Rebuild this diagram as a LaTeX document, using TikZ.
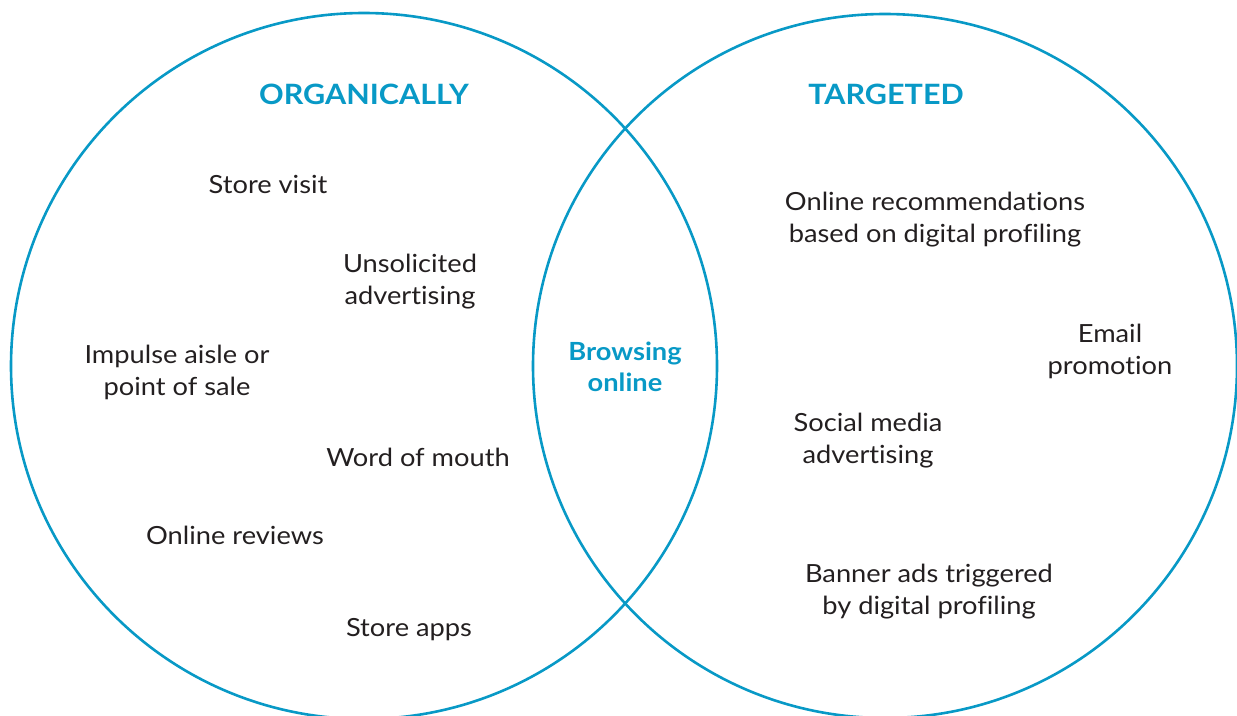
\documentclass[tikz,border=0pt]{standalone}
\usepackage{fontspec}
\setmainfont{Lato}[FakeStretch=1.09,Ligatures=NoCommon]
\definecolor{vblue}{HTML}{0899C6}
\definecolor{vtext}{HTML}{231F20}
\begin{document}
\begin{tikzpicture}[x=1pt,y=-1pt,
  ring/.style={draw=vblue,line width=2.6pt},
  head/.style={font=\fontsize{28}{32}\selectfont\bfseries,text=vblue,inner sep=0pt},
  mid/.style={font=\fontsize{25}{31}\selectfont\bfseries,text=vblue,align=center,inner sep=0pt},
  item/.style={font=\fontsize{25}{32}\selectfont,text=vtext,align=center,inner sep=0pt}]
\useasboundingbox (0,0) rectangle (1237,715);
\clip (0,0) rectangle (1237,715);
\draw[ring] (364,366) circle (353);
\draw[ring] (885,366) circle (352);
\node[head] (org) at (364,94) {ORGANICALLY};
\node[head] (tar) at (886,94) {TARGETED};
\node[mid] (brw) at (625,367) {Browsing\\online};
\node[item] (sv) at (268,184) {Store visit};
\node[item] (ua) at (410,282) {Unsolicited\\advertising};
\node[item] (ia) at (177,372) {Impulse aisle or\\point of sale};
\node[item] (wm) at (418,457) {Word of mouth};
\node[item] (or) at (235,535) {Online reviews};
\node[item] (sa) at (409,630) {Store apps};
\node[item] (rec) at (935,220) {Online recommendations\\based on digital profiling};
\node[item] (em) at (1110,351) {Email\\promotion};
\node[item] (sm) at (868,441) {Social media\\advertising};
\node[item] (ban) at (929,592) {Banner ads triggered\\by digital profiling};
\end{tikzpicture}
\end{document}
